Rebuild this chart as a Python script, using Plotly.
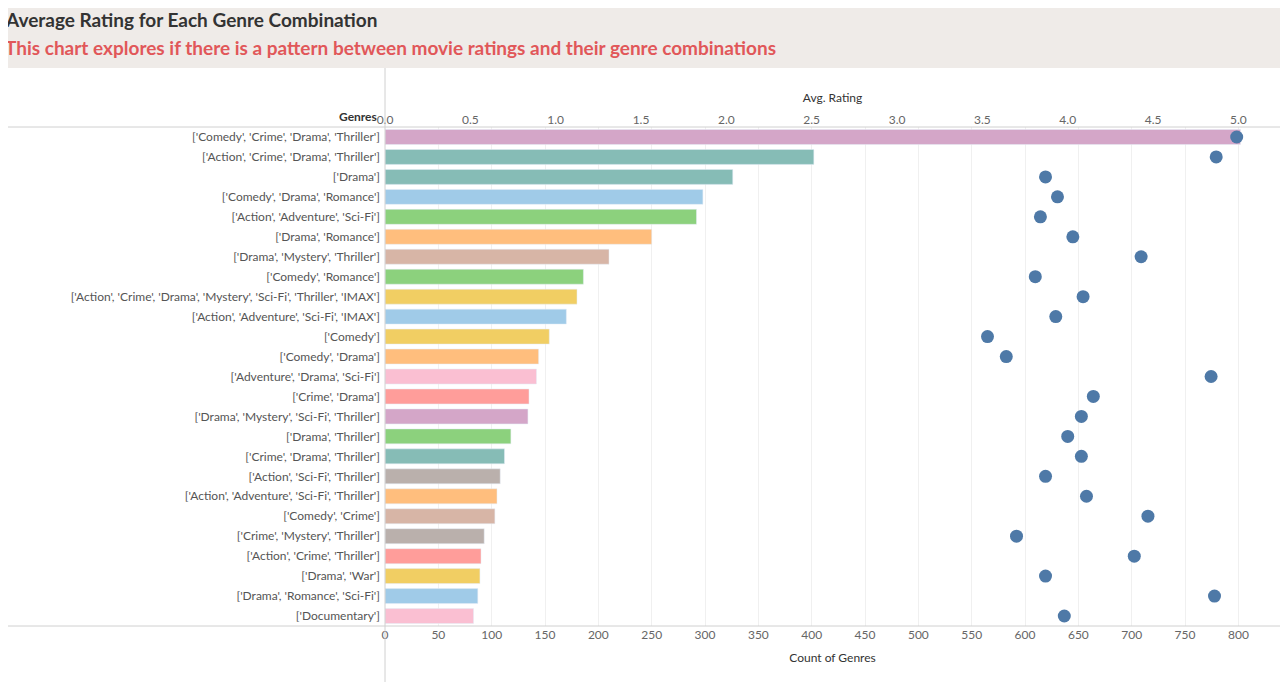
import plotly.graph_objects as go

genres = [
    "['Comedy', 'Crime', 'Drama', 'Thriller']",
    "['Action', 'Crime', 'Drama', 'Thriller']",
    "['Drama']",
    "['Comedy', 'Drama', 'Romance']",
    "['Action', 'Adventure', 'Sci-Fi']",
    "['Drama', 'Romance']",
    "['Drama', 'Mystery', 'Thriller']",
    "['Comedy', 'Romance']",
    "['Action', 'Crime', 'Drama', 'Mystery', 'Sci-Fi', 'Thriller', 'IMAX']",
    "['Action', 'Adventure', 'Sci-Fi', 'IMAX']",
    "['Comedy']",
    "['Comedy', 'Drama']",
    "['Adventure', 'Drama', 'Sci-Fi']",
    "['Crime', 'Drama']",
    "['Drama', 'Mystery', 'Sci-Fi', 'Thriller']",
    "['Drama', 'Thriller']",
    "['Crime', 'Drama', 'Thriller']",
    "['Action', 'Sci-Fi', 'Thriller']",
    "['Action', 'Adventure', 'Sci-Fi', 'Thriller']",
    "['Comedy', 'Crime']",
    "['Crime', 'Mystery', 'Thriller']",
    "['Action', 'Crime', 'Thriller']",
    "['Drama', 'War']",
    "['Drama', 'Romance', 'Sci-Fi']",
    "['Documentary']",
]
counts = [802, 402, 326, 298, 292, 250, 210, 186, 180, 170, 154, 144, 142,
          135, 134, 118, 112, 108, 105, 103, 93, 90, 89, 87, 83]
ratings = [4.99, 4.87, 3.87, 3.94, 3.84, 4.03, 4.43, 3.81, 4.09, 3.93, 3.53,
           3.64, 4.84, 4.15, 4.08, 4.00, 4.08, 3.87, 4.11, 4.47, 3.70, 4.39,
           3.87, 4.86, 3.98]
colors = ["#D4A6C8", "#86BCB6", "#86BCB6", "#A0CBE8", "#8CD17D", "#FFBE7D",
          "#D7B5A6", "#8CD17D", "#F1CE63", "#A0CBE8", "#F1CE63", "#FFBE7D",
          "#FABFD2", "#FF9D9A", "#D4A6C8", "#8CD17D", "#86BCB6", "#BAB0AC",
          "#FFBE7D", "#D7B5A6", "#BAB0AC", "#FF9D9A", "#F1CE63", "#A0CBE8",
          "#FABFD2"]

font = "Lato, 'Noto Sans', sans-serif"
xmax = 839

fig = go.Figure()
fig.add_trace(go.Bar(x=counts, y=genres, orientation="h", marker_color=colors,
                     width=0.75, showlegend=False))
fig.add_trace(go.Scatter(x=ratings, y=genres, xaxis="x2", mode="markers",
                         marker=dict(color="#4E79A7", size=13), showlegend=False))

axis_common = dict(tickfont=dict(size=12, color="#666"), showline=False,
                   zeroline=False, ticks="")
fig.update_layout(
    width=1280, height=674,
    margin=dict(l=377, r=8, t=119, b=56),
    plot_bgcolor="white", paper_bgcolor="white",
    font=dict(family=font),
    xaxis=dict(range=[0, xmax], dtick=50, showgrid=True, gridcolor="#F0F0F0",
               title=dict(text="Count of Genres", font=dict(size=12, color="#333"),
                          standoff=12), **axis_common),
    xaxis2=dict(range=[0, xmax * 5 / 800], dtick=0.5, tickformat=".1f",
                overlaying="x", side="top", showgrid=False,
                title=dict(text="Avg. Rating", font=dict(size=12, color="#333"),
                           standoff=6), **axis_common),
    yaxis=dict(range=[len(genres) - 0.5, -0.5], tickfont=dict(size=12, color="#555"),
               showgrid=False, ticks="", ticklabelstandoff=4),
)

top_header = (626 + 10) / 499
bot_header = (626 - 68) / 499
fig.add_shape(type="rect", xref="paper", yref="paper", x0=-395 / 895, x1=1 + 20 / 895,
              y0=bot_header, y1=top_header, fillcolor="#EFEBE8", line_width=0, layer="below")
for y in [0, 1]:
    fig.add_shape(type="line", xref="paper", yref="paper", x0=-395 / 895, x1=1 + 20 / 895,
                  y0=y, y1=y, line=dict(color="#D0D0D0", width=1))
fig.add_shape(type="line", xref="paper", yref="paper", x0=0, x1=0,
              y0=-70 / 499, y1=bot_header, line=dict(color="#D0D0D0", width=1))

fig.add_annotation(text="<b>Average Rating for Each Genre Combination</b>", xref="paper", yref="paper",
                   x=-382 / 895, y=(626 - 20) / 499, xanchor="left", yanchor="middle",
                   showarrow=False, font=dict(size=19, color="#333"))
fig.add_annotation(text="<b>This chart explores if there is a pattern between movie ratings and their genre combinations</b>",
                   xref="paper", yref="paper", x=-382 / 895, y=(626 - 47) / 499,
                   xanchor="left", yanchor="middle", showarrow=False,
                   font=dict(size=19, color="#E15759"))
fig.add_annotation(text="<b>Genres</b>", xref="paper", yref="paper", x=-6 / 895,
                   y=(626 - 117) / 499, xanchor="right", yanchor="middle",
                   showarrow=False, font=dict(size=12, color="#333"))

fig.write_html("out.html")
